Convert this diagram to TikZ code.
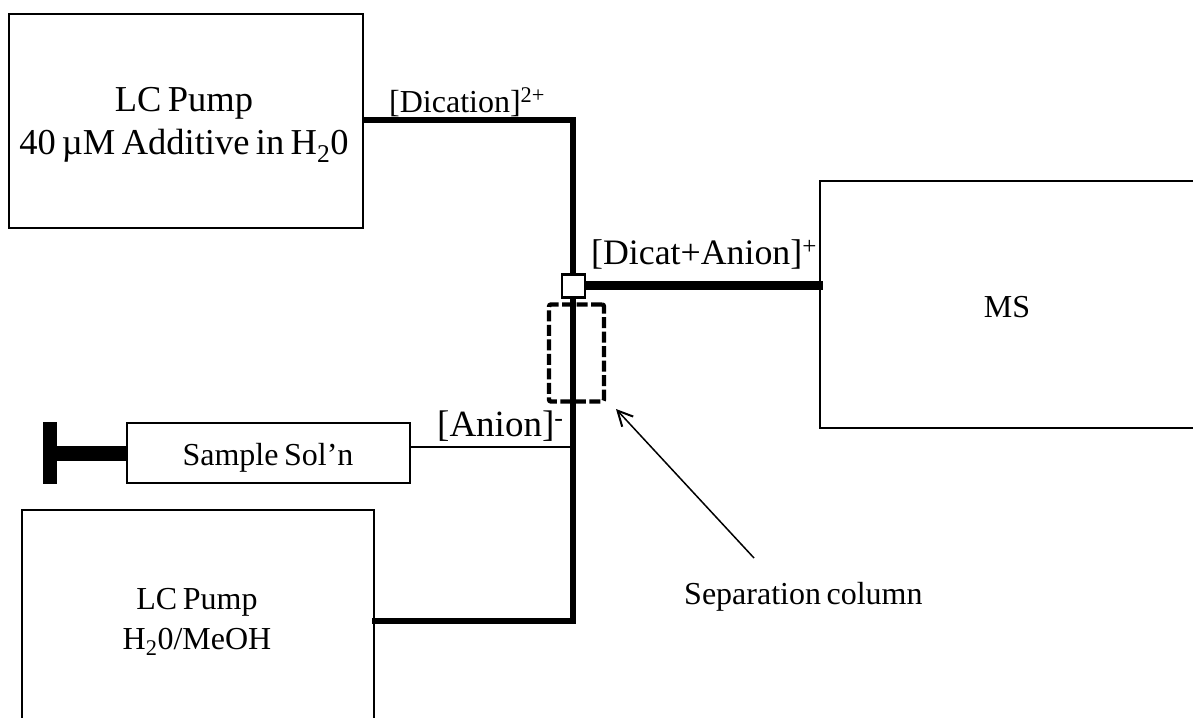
\documentclass[tikz,border=0pt]{standalone}
\usepackage{fontspec}
\setmainfont[WordSpace=0.7]{Liberation Serif}
\usetikzlibrary{arrows.meta,calc}
\tikzset{
  x=1pt,y=-1pt,
  boxnode/.style={draw=black,line width=2pt,fill=white,inner sep=0pt,minimum width=#1},
  thickpipe/.style={line width=6.5pt,black},
  thinpipe/.style={line width=1.6pt,black},
  txt/.style={inner sep=0pt,align=center,text=black},
  bigt/.style={txt,font=\fontsize{36.5}{43}\selectfont},
  midt/.style={txt,font=\fontsize{32}{40}\selectfont},
  lab/.style={txt,font=\fontsize{32}{36}\selectfont},
}
\newcommand{\subtwo}{\textsubscript{2}}
\begin{document}
\begin{tikzpicture}
\useasboundingbox (0,0) rectangle (1193,717);
\fill[white] (0,0) rectangle (1193,717);
\coordinate (topcorner) at (573,120);
\coordinate (botcorner) at (573,621);
\coordinate (sampjoin) at (573,447);
\coordinate (teeleft) at (573,285.5);
\node[boxnode=354pt,minimum height=214pt] (pumpA) at (186,121) {};
\node[boxnode=376pt,minimum height=247pt] (ms) at (1008,304.5) {};
\node[boxnode=352pt,minimum height=212pt] (pumpB) at (198,616) {};
\node[boxnode=283pt,minimum height=60pt] (sample) at (268.5,453) {};
\coordinate (pumpAout) at (pumpA.east |- topcorner);
\coordinate (pumpBout) at ($(pumpB.east |- botcorner)+(-3,0)$);
\coordinate (sampout) at (sample.east |- sampjoin);
\coordinate (msin) at ($(ms.west |- teeleft)+(4,0)$);
\draw[thickpipe,line join=miter] (pumpAout) -- (topcorner) -- (teeleft) -- (botcorner) -- (pumpBout);
\draw[line width=9pt,black] (teeleft) -- (msin);
\draw[thinpipe] (sampout) -- (sampjoin);
\node[draw=black,line width=2.5pt,fill=white,minimum width=23pt,minimum height=23pt,inner sep=0pt] (tee) at (573.5,286) {};
\coordinate (stemend) at (50,453);
\draw[line width=15pt,black] (sample.west) -- (stemend);
\draw[line width=14pt,black] (50,422) -- (50,484);
\node[draw=black,dashed,dash pattern=on 11pt off 3.5pt,line width=4.4pt,rounded corners=2pt,minimum width=55pt,minimum height=97pt,inner sep=0pt] (column) at (576.5,353) {};
\coordinate (arrowtail) at (754,558);
\coordinate (arrowhead) at (616,409);
\draw[line width=1.5pt,-{Straight Barb[length=15pt,width=15pt,line width=2pt]}] (arrowtail) -- (arrowhead);
\node[bigt] (ta) at (184,125) {LC Pump\\40\,µM Additive in H\subtwo 0};
\node[lab,anchor=base] (tms) at (1007,317) {MS};
\node[midt] (tb) at (197,622) {LC Pump\\H\subtwo 0/MeOH};
\node[lab,anchor=base] (ts) at (268,465) {Sample Sol’n};
\node[lab,anchor=base west] (ld) at (389,112) {[Dication]\textsuperscript{2+}};
\node[txt,font=\fontsize{35.8}{42}\selectfont,anchor=base west] (lm) at (591,264) {[Dicat+Anion]\textsuperscript{+}};
\node[txt,font=\fontsize{37}{42}\selectfont,anchor=base west] (lan) at (437,436) {[Anion]\textsuperscript{-}};
\node[lab,anchor=base west] (lsc) at (684,604) {Separation column};
\end{tikzpicture}
\end{document}
